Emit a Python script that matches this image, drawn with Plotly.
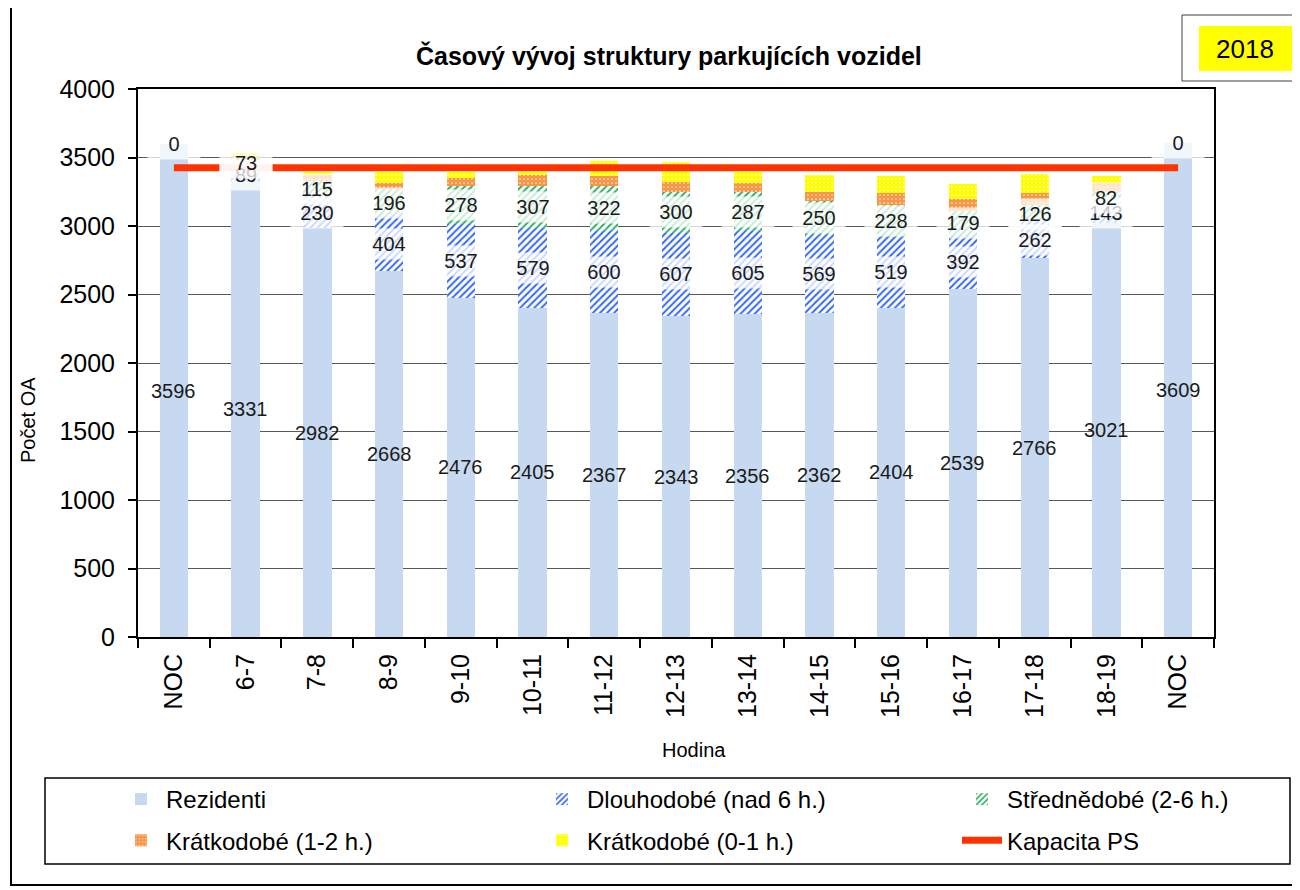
import plotly.graph_objects as go

# ---------------- data ----------------
hours = ["NOC", "6-7", "7-8", "8-9", "9-10", "10-11", "11-12", "12-13",
         "13-14", "14-15", "15-16", "16-17", "17-18", "18-19", "NOC"]
rezidenti = [3596, 3331, 2982, 2668, 2476, 2405, 2367, 2343, 2356, 2362, 2404, 2539, 2766, 3021, 3609]
dlouhodobe = [0, 89, 230, 404, 537, 579, 600, 607, 605, 569, 519, 392, 262, 143, 0]
strednedobe = [None, 73, 115, 196, 278, 307, 322, 300, 287, 250, 228, 179, 126, 82, None]
kratkodobe_1_2 = [0, 16, 44, 47, 60, 80, 75, 72, 67, 69, 91, 84, 88, 65, 0]
kratkodobe_0_1 = [0, 24, 20, 80, 44, 24, 109, 142, 76, 119, 120, 112, 136, 53, 0]
kapacita = [3425, 3425, 3425, 3425, 3425, 3425, 3425, 3425, 3425, 3425, 3425, 3425, 3425, 3425, 3425]
y_ticks = [0, 500, 1000, 1500, 2000, 2500, 3000, 3500, 4000]

title = "Časový vývoj struktury parkujících vozidel"
year = "2018"

# ---------------- layout helpers ----------------
# the page body has an 8px margin, so the figure is 8px smaller and all
# reference-pixel positions are converted to paper coordinates below
W, H = 1292, 882
L, R, T, B = 130, 86, 81, 253
PW, PH = W - L - R, H - T - B
FONT = "Liberation Sans, Arial, sans-serif"


def px(xr):
    return (xr - 8 - L) / PW


def py(yr):
    return (H - B - (yr - 8)) / PH


x = list(range(len(hours)))

fig = go.Figure()
fig.add_trace(go.Bar(x=x, y=rezidenti, name="Rezidenti", legend="legend", legendgroup="a",
                     marker=dict(color="#C6D9F0", line=dict(width=0))))
fig.add_trace(go.Bar(x=x, y=dlouhodobe, name="Dlouhodobé (nad 6 h.)", legend="legend2", legendgroup="b",
                     marker=dict(color="white", line=dict(width=0),
                                 pattern=dict(shape="/", fgcolor="#3366FF", bgcolor="white",
                                              size=5, solidity=0.4, fillmode="overlay",
                                              fgopacity=1))))
fig.add_trace(go.Bar(x=x, y=strednedobe, name="Střednědobé (2-6 h.)", legend="legend3", legendgroup="c",
                     marker=dict(color="white", line=dict(width=0),
                                 pattern=dict(shape="/", fgcolor="#2EB062", bgcolor="white",
                                              size=5, solidity=0.4, fillmode="overlay",
                                              fgopacity=1))))
fig.add_trace(go.Bar(x=x, y=kratkodobe_1_2, name="Krátkodobé (1-2 h.)", legend="legend", legendgroup="d",
                     marker=dict(color="#F79646", line=dict(width=0),
                                 pattern=dict(shape=".", fgcolor="#FDE9D9", bgcolor="#F79646",
                                              size=4, solidity=0.15, fillmode="overlay",
                                              fgopacity=1))))
fig.add_trace(go.Bar(x=x, y=kratkodobe_0_1, name="Krátkodobé (0-1 h.)", legend="legend2", legendgroup="e",
                     marker=dict(color="#FFFF00", line=dict(width=0),
                                 pattern=dict(shape=".", fgcolor="#FFFFD0", bgcolor="#FFFF00",
                                              size=4, solidity=0.15, fillmode="overlay",
                                              fgopacity=1))))
fig.add_trace(go.Scatter(x=x, y=kapacita, name="Kapacita PS", mode="lines", legend="legend3",
                         legendgroup="f", line=dict(color="#FF3300", width=7)))

# ---------------- data labels ----------------
annotations = []
lab_font = dict(family=FONT, size=20, color="#1a1a1a")
for i in x:
    annotations.append(dict(x=i, y=rezidenti[i] / 2, text=str(rezidenti[i]), showarrow=False,
                            xref="x", yref="y", font=lab_font))
for i in x:
    if dlouhodobe[i] is not None:
        annotations.append(dict(x=i, y=rezidenti[i] + dlouhodobe[i] / 2, text=str(dlouhodobe[i]),
                                showarrow=False, xref="x", yref="y", font=lab_font,
                                bgcolor="rgba(255,255,255,0.75)", width=46, height=24, borderpad=3))
for i in x:
    if strednedobe[i] is not None:
        annotations.append(dict(x=i, y=rezidenti[i] + dlouhodobe[i] + strednedobe[i] / 2,
                                text=str(strednedobe[i]), showarrow=False, xref="x", yref="y",
                                font=lab_font, bgcolor="rgba(255,255,255,0.75)",
                                width=46, height=24, borderpad=3))

# titles
annotations.append(dict(x=px(669), y=py(56), xref="paper", yref="paper", showarrow=False,
                        text="<b>" + title + "</b>", font=dict(family=FONT, size=25, color="black"),
                        xanchor="center", yanchor="middle"))
annotations.append(dict(x=px(28), y=py(420), xref="paper", yref="paper", showarrow=False,
                        text="Počet OA", textangle=-90, font=dict(family=FONT, size=20, color="black"),
                        xanchor="center", yanchor="middle"))
annotations.append(dict(x=px(694), y=py(750), xref="paper", yref="paper", showarrow=False,
                        text="Hodina", font=dict(family=FONT, size=20, color="black"),
                        xanchor="center", yanchor="middle"))
annotations.append(dict(x=px(1245), y=py(49), xref="paper", yref="paper", showarrow=False,
                        text=year, font=dict(family=FONT, size=26, color="black"),
                        xanchor="center", yanchor="middle"))

shapes = [
    # outer chart border
    dict(type="rect", xref="paper", yref="paper", x0=px(11), x1=px(1297), y0=py(885), y1=py(7),
         line=dict(color="black", width=2), layer="below"),
    # year box
    dict(type="rect", xref="paper", yref="paper", x0=px(1182), x1=px(1297), y0=py(81), y1=py(15),
         line=dict(color="#404040", width=1), fillcolor="white", layer="above"),
    dict(type="rect", xref="paper", yref="paper", x0=px(1199), x1=px(1292), y0=py(71), y1=py(26),
         line=dict(width=0), fillcolor="#FFFF00", layer="above"),
    # legend frame
    dict(type="rect", xref="paper", yref="paper", x0=px(45), x1=px(1290), y0=py(864), y1=py(778),
         line=dict(color="black", width=1.5), layer="below"),
]


def legend_box(xr):
    return dict(orientation="v", x=px(xr), y=py(777), xanchor="left", yanchor="top",
                font=dict(family=FONT, size=24, color="black"), itemwidth=40,
                traceorder="grouped", tracegroupgap=7, bgcolor="rgba(0,0,0,0)")


fig.update_layout(
    width=W, height=H,
    margin=dict(l=L, r=R, t=T, b=B, autoexpand=False),
    paper_bgcolor="white", plot_bgcolor="white",
    font=dict(family=FONT, color="black"),
    barmode="stack", bargap=0.605,
    showlegend=True,
    legend=legend_box(116),
    legend2=legend_box(537),
    legend3=legend_box(957),
    annotations=annotations,
    shapes=shapes,
)

fig.update_xaxes(range=[-0.5, len(hours) - 0.5], tickmode="array", tickvals=x, ticktext=hours,
                 tickangle=-90, ticks="", tickfont=dict(family=FONT, size=25, color="black"),
                 showline=True, linecolor="black", linewidth=2, mirror=True,
                 showgrid=False, zeroline=False, ticklabelstandoff=5,
                 minor=dict(tickmode="array", tickvals=[i - 0.5 for i in range(len(hours) + 1)],
                            ticks="outside", ticklen=9, tickcolor="black", tickwidth=1.5,
                            showgrid=False))
fig.update_yaxes(range=[0, 4000], tickmode="array", tickvals=y_ticks,
                 ticks="outside", ticklen=8, tickcolor="black", tickwidth=1.5,
                 tickfont=dict(family=FONT, size=25, color="black"),
                 showline=True, linecolor="black", linewidth=2, mirror=True,
                 showgrid=True, gridcolor="#595959", gridwidth=1, zeroline=False,
                 ticklabelstandoff=8)

fig.write_html("out.html")
